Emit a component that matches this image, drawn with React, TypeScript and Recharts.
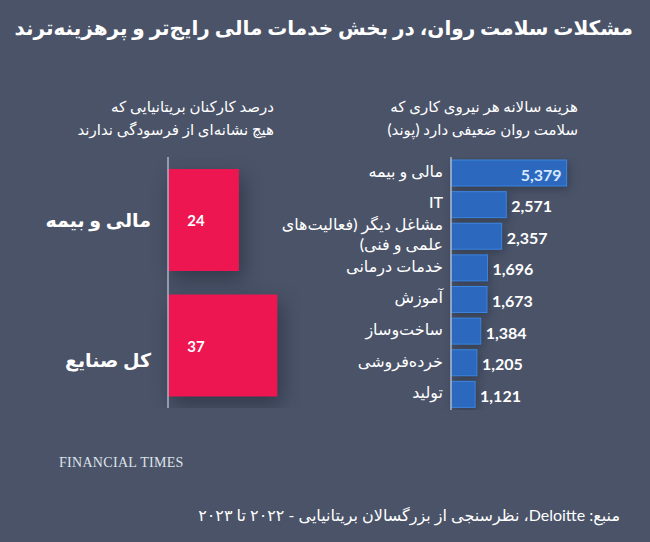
import { BarChart, Bar, XAxis, YAxis, LabelList } from 'recharts'

const costCategories = [
  'مالی و بیمه',
  'IT',
  'مشاغل دیگر (فعالیت‌های\nعلمی و فنی)',
  'خدمات درمانی',
  'آموزش',
  'ساخت‌وساز',
  'خرده‌فروشی',
  'تولید',
]
const costValues = [5379, 2571, 2357, 1696, 1673, 1384, 1205, 1121]

const burnoutCategories = ['مالی و بیمه', 'کل صنایع']
const burnoutValues = [24, 37]

const title = 'مشکلات سلامت روان، در بخش خدمات مالی رایج‌تر و پرهزینه‌ترند'
const costTitle = ['هزینه سالانه هر نیروی کاری که', 'سلامت روان ضعیفی دارد (پوند)']
const burnoutTitle = ['درصد کارکنان بریتانیایی که', 'هیچ نشانه‌ای از فرسودگی ندارند']
const source = 'منبع: Deloitte، نظرسنجی از بزرگسالان بریتانیایی - ۲۰۲۲ تا ۲۰۲۳'

const BG = '#4a5368'
const FONT = 'Lato, "DejaVu Sans", sans-serif'
const RLM = '\u200F'

const costData = costCategories.map((name, i) => ({ name, value: costValues[i] }))
const burnoutData = burnoutCategories.map((name, i) => ({ name, value: burnoutValues[i] }))

function CostTick(props: any) {
  const { x, y, payload } = props
  const lines = String(payload.value).split('\n')
  const lh = 20
  const y0 = y - ((lines.length - 1) * lh) / 2 - 3
  return (
    <text x={x} y={y0} textAnchor="end" dominantBaseline="central" fill="#ffffff" fontSize={16} fontWeight={500} fontFamily={FONT}>
      {lines.map((l, i) => (
        <tspan key={i} x={x} y={y0 + i * lh}>{RLM + l + RLM}</tspan>
      ))}
    </text>
  )
}

function BurnoutTick(props: any) {
  const { x, y, payload, index } = props
  const dy = index === 1 ? 14 : 0
  return (
    <text x={x} y={y + dy} textAnchor="end" dominantBaseline="central" fill="#ffffff" fontSize={19} fontWeight={700} fontFamily={FONT}>
      {RLM + payload.value + RLM}
    </text>
  )
}

function CostLabel(props: any) {
  const { x, y, width, height, value, index } = props
  const inside = index === 0
  return (
    <text
      x={inside ? x + width - 5 : x + width + 5}
      y={y + height / 2 + 1}
      textAnchor={inside ? 'end' : 'start'}
      dominantBaseline="central"
      fill={inside ? '#d6e8ff' : '#ffffff'}
      fontSize={16}
      fontWeight={700}
      fontFamily={FONT}
    >
      {Number(value).toLocaleString('en-US')}
    </text>
  )
}

function BurnoutLabel(props: any) {
  const { x, y, height, value } = props
  return (
    <text x={x + 28} y={y + height / 2} textAnchor="middle" dominantBaseline="central" fill="#ffffff" fontSize={15} fontWeight={700} fontFamily={FONT}>
      {value}
    </text>
  )
}

function ShadowRect(props: any) {
  const { x, y, width, height, fill, stroke, shadow } = props
  return (
    <rect
      x={x}
      y={y}
      width={width}
      height={height}
      fill={fill}
      stroke={stroke}
      strokeWidth={stroke ? 1 : 0}
      style={{ filter: shadow }}
    />
  )
}

export default function App() {
  return (
    <div style={{ position: 'relative', width: 650, height: 542, background: BG, overflow: 'hidden', fontFamily: FONT }}>
      <style>{'body{margin:0}'}</style>
      <div
        dir="rtl"
        style={{ position: 'absolute', right: 17, top: 15, fontSize: 20, fontWeight: 700, color: '#ffffff', whiteSpace: 'nowrap' }}
      >
        {title}
      </div>

      <div dir="rtl" style={{ position: 'absolute', right: 650 - 578, top: 95, fontSize: 15, fontWeight: 500, color: '#ffffff', lineHeight: '23px', whiteSpace: 'nowrap' }}>
        {costTitle.map((t) => <div key={t}>{t}</div>)}
      </div>
      <div dir="rtl" style={{ position: 'absolute', right: 650 - 274, top: 95, fontSize: 15, fontWeight: 500, color: '#ffffff', lineHeight: '23px', whiteSpace: 'nowrap' }}>
        {burnoutTitle.map((t) => <div key={t}>{t}</div>)}
      </div>

      <div style={{ position: 'absolute', left: 0, top: 157 }}>
        <BarChart width={301} height={251} data={burnoutData} layout="vertical" margin={{ top: 0, right: 0, bottom: 0, left: 0 }} barCategoryGap={12}>
          <XAxis type="number" domain={[0, 45]} hide />
          <YAxis
            type="category"
            dataKey="name"
            width={168}
            tick={BurnoutTick}
            interval={0}
            tickLine={false}
            tickSize={0}
            tickMargin={17}
            axisLine={{ stroke: '#aeb5c4', strokeWidth: 1.5 }}
          />
          <Bar
            dataKey="value"
            fill="#ee1651"
            isAnimationActive={false}
            shape={(p: any) => <ShadowRect {...p} shadow="drop-shadow(4px 8px 10px rgba(20,25,40,0.45))" />}
          >
            <LabelList dataKey="value" content={BurnoutLabel} />
          </Bar>
        </BarChart>
      </div>

      <div style={{ position: 'absolute', left: 240, top: 157 }}>
        <BarChart width={340} height={253} data={costData} layout="vertical" margin={{ top: 0, right: 0, bottom: 0, left: 0 }} barSize={26}>
          <XAxis type="number" domain={[0, 6000]} hide />
          <YAxis
            type="category"
            dataKey="name"
            width={211}
            tick={CostTick}
            interval={0}
            tickLine={false}
            tickSize={0}
            tickMargin={8}
            axisLine={{ stroke: '#aeb5c4', strokeWidth: 1.5 }}
          />
          <Bar
            dataKey="value"
            fill="#2c68bd"
            isAnimationActive={false}
            shape={(p: any) => <ShadowRect {...p} stroke="#3b86e2" shadow="drop-shadow(2px 3px 4px rgba(20,25,40,0.35))" />}
          >
            <LabelList dataKey="value" content={CostLabel} />
          </Bar>
        </BarChart>
      </div>

      <div style={{ position: 'absolute', left: 59, top: 455, fontFamily: '"Liberation Serif", serif', fontSize: 14, color: '#dfe3ea', letterSpacing: 0.3 }}>
        FINANCIAL TIMES
      </div>

      <div dir="rtl" style={{ position: 'absolute', right: 30, top: 505, fontSize: 16, color: '#ffffff', whiteSpace: 'nowrap' }}>
        {source}
      </div>
    </div>
  )
}
